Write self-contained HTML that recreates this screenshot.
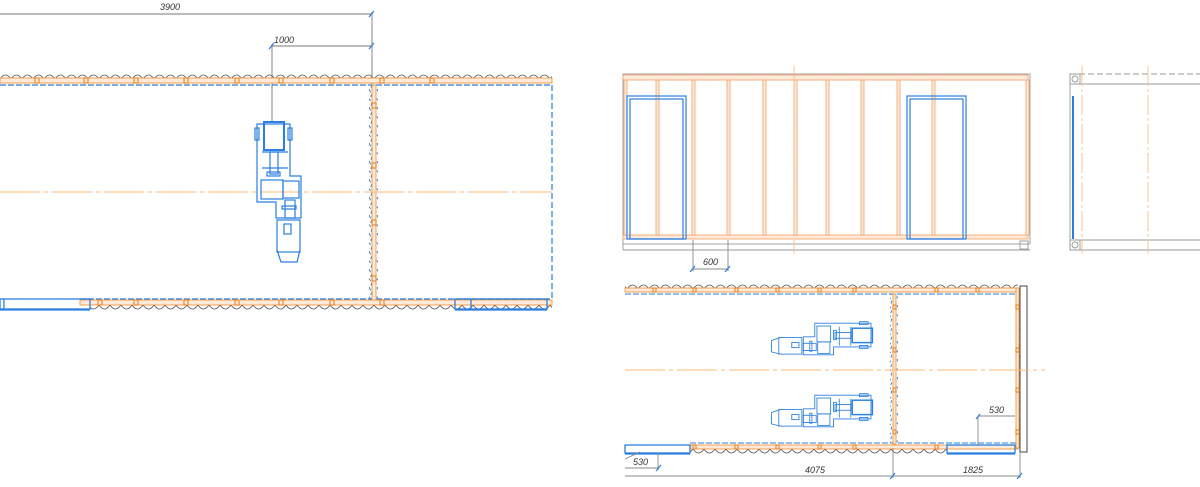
<!DOCTYPE html>
<html><head><meta charset="utf-8"><style>
html,body{margin:0;padding:0;background:#fff;width:1200px;height:487px;overflow:hidden}
svg{display:block}
text{font-family:"Liberation Sans",sans-serif;font-size:9px;font-style:italic;fill:#333}
</style></head><body>
<svg width="1200" height="487" viewBox="0 0 1200 487" xmlns="http://www.w3.org/2000/svg">
<defs>
<pattern id="scal" x="0" y="71" width="22" height="10" patternUnits="userSpaceOnUse">
<path d="M0,8 Q5.5,0 11,8 Q16.5,0 22,8" fill="none" stroke="#555" stroke-width="0.8"/>
</pattern>
<pattern id="scalb" x="0" y="303" width="22" height="10" patternUnits="userSpaceOnUse">
<path d="M0,2 Q5.5,10 11,2 Q16.5,10 22,2" fill="none" stroke="#555" stroke-width="0.8"/>
</pattern>
<pattern id="scalb2" x="0" y="447" width="22" height="10" patternUnits="userSpaceOnUse">
<path d="M0,2 Q5.5,10 11,2 Q16.5,10 22,2" fill="none" stroke="#555" stroke-width="0.8"/>
</pattern>
<pattern id="scalv" x="0" y="0" width="8" height="18" patternUnits="userSpaceOnUse">
<path d="M1,0 Q6,4.5 1,9 Q6,13.5 1,18" fill="none" stroke="#2a7fe0" stroke-width="0.9" stroke-dasharray="3 2"/>
</pattern>
<g id="motor" fill="none" stroke="#2a7fe0" stroke-width="1.2">
<path d="M257,124 H290 V176 H301 V218 H276 V202 H257 Z"/>
<rect x="264" y="122" width="20" height="28" stroke-width="2"/>
<rect x="255" y="128" width="4" height="12"/><rect x="288" y="128" width="4" height="12"/>
<line x1="262" y1="152" x2="288" y2="152"/><line x1="262" y1="168" x2="288" y2="168"/>
<rect x="270" y="152" width="8" height="22"/>
<rect x="267" y="172" width="13" height="4"/>
<rect x="261" y="180" width="22" height="19"/>
<rect x="283" y="181" width="16" height="17"/>
<rect x="285" y="200" width="10" height="18"/>
<rect x="282" y="206" width="14" height="3"/>
<rect x="277" y="220" width="23" height="32"/>
<rect x="284" y="224" width="7" height="10"/>
<path d="M277,250 L281,262 H297 L300,250"/>
</g>
</defs>

<g stroke="#777" stroke-width="0.9">
<line x1="0" y1="14" x2="372" y2="14"/>
<line x1="272" y1="46" x2="372" y2="46"/>
<line x1="372" y1="12" x2="372" y2="84"/>
<line x1="272" y1="44" x2="272" y2="122"/>
</g>
<g stroke="#2a7fe0" stroke-width="1.2"><line x1="369" y1="17" x2="374" y2="11"/><line x1="369" y1="49" x2="374" y2="43"/><line x1="269" y1="49" x2="274" y2="43"/></g>
<text x="160" y="10">3900</text>
<text x="274" y="43">1000</text>

<rect x="0" y="71" width="552" height="10" fill="url(#scal)"/>
<rect x="0" y="78" width="552" height="5" fill="#feeadb" stroke="#f08a2a" stroke-width="0.8"/>
<line x1="0" y1="85" x2="552" y2="85" stroke="#2a7fe0" stroke-width="1.2" stroke-dasharray="6 2"/>
<rect x="90" y="303" width="462" height="10" fill="url(#scalb)"/>
<rect x="80" y="300" width="472" height="5" fill="#feeadb" stroke="#f08a2a" stroke-width="0.8"/>
<line x1="80" y1="299" x2="552" y2="299" stroke="#2a7fe0" stroke-width="1.2" stroke-dasharray="6 2"/>
<g fill="none" stroke="#2a7fe0" stroke-width="1.3">
<rect x="0" y="299" width="90" height="10"/><line x1="4" y1="299" x2="4" y2="309"/><line x1="0" y1="310" x2="90" y2="310"/>
<rect x="455" y="299" width="92" height="10"/><line x1="471" y1="299" x2="471" y2="309"/><line x1="455" y1="310" x2="547" y2="310"/>
</g>
<g fill="none" stroke="#f08a2a" stroke-width="1.2">
<rect x="35" y="78" width="4" height="5"/><rect x="84" y="78" width="4" height="5"/><rect x="134" y="78" width="4" height="5"/><rect x="184" y="78" width="4" height="5"/><rect x="235" y="78" width="4" height="5"/><rect x="279" y="78" width="4" height="5"/><rect x="330" y="78" width="4" height="5"/><rect x="380" y="78" width="4" height="5"/><rect x="430" y="78" width="4" height="5"/>
<rect x="98" y="300" width="4" height="5"/><rect x="134" y="300" width="4" height="5"/><rect x="184" y="300" width="4" height="5"/><rect x="235" y="300" width="4" height="5"/><rect x="279" y="300" width="4" height="5"/><rect x="330" y="300" width="4" height="5"/><rect x="380" y="300" width="4" height="5"/>
</g>
<rect x="369" y="85" width="9" height="215" fill="url(#scalv)"/>
<rect x="372" y="85" width="4" height="215" fill="#feeadb" stroke="#f08a2a" stroke-width="0.8"/>
<g fill="none" stroke="#f08a2a" stroke-width="1.2"><rect x="372" y="103" width="4" height="5"/><rect x="372" y="163" width="4" height="5"/><rect x="372" y="220" width="4" height="5"/><rect x="372" y="276" width="4" height="5"/></g>
<line x1="552" y1="85" x2="552" y2="299" stroke="#2a7fe0" stroke-width="1.2" stroke-dasharray="6 3"/>
<line x1="0" y1="192" x2="552" y2="192" stroke="#fbb87a" stroke-width="0.9" stroke-dasharray="40 4 4 4"/>
<use href="#motor"/>

<g fill="none" stroke="#999" stroke-width="0.9">
<rect x="623" y="74" width="407" height="170"/>
<line x1="623" y1="250" x2="1030" y2="250"/><line x1="623" y1="244" x2="623" y2="250"/>
<rect x="1020" y="241" width="8" height="8"/>
</g>
<g fill="#feeadb" stroke="#f5a064" stroke-width="0.8">
<rect x="623" y="75" width="405" height="5"/>
<rect x="623" y="235" width="405" height="4"/>
<rect x="624" y="80" width="3" height="155"/><rect x="1026" y="80" width="3" height="155"/>
<rect x="656" y="80" width="3" height="155"/><rect x="692" y="80" width="3" height="155"/><rect x="727" y="80" width="3" height="155"/><rect x="763" y="80" width="3" height="155"/><rect x="794" y="80" width="3" height="155"/><rect x="826" y="80" width="3" height="155"/><rect x="861" y="80" width="3" height="155"/><rect x="897" y="80" width="3" height="155"/><rect x="932" y="80" width="3" height="155"/>
</g>
<line x1="794" y1="66" x2="794" y2="254" stroke="#fbb87a" stroke-width="0.8" stroke-dasharray="20 3 3 3"/>
<g fill="none" stroke="#2a7fe0" stroke-width="1.2">
<rect x="627" y="96" width="59" height="143"/><rect x="630" y="99" width="53" height="140"/>
<rect x="907" y="96" width="59" height="143"/><rect x="910" y="99" width="53" height="140"/>
</g>
<g stroke="#888" stroke-width="0.9"><line x1="693" y1="240" x2="693" y2="271"/><line x1="728" y1="240" x2="728" y2="271"/><line x1="693" y1="269" x2="728" y2="269"/></g>
<g stroke="#2a7fe0" stroke-width="1.2"><line x1="690" y1="272" x2="695" y2="266"/><line x1="725" y1="272" x2="730" y2="266"/></g>
<text x="703" y="265">600</text>

<g fill="none" stroke="#999" stroke-width="0.9">
<line x1="1070" y1="74" x2="1070" y2="250"/>
<line x1="1070" y1="74" x2="1200" y2="74" stroke-dasharray="6 3"/>
<line x1="1074" y1="84" x2="1200" y2="84"/>
<line x1="1070" y1="240" x2="1200" y2="240"/>
<line x1="1070" y1="250" x2="1200" y2="250"/>
<rect x="1070" y="74" width="10" height="10"/><rect x="1070" y="240" width="10" height="10"/>
<circle cx="1075" cy="79" r="3"/><circle cx="1075" cy="245" r="3"/>
</g>
<line x1="1073" y1="96" x2="1073" y2="239" stroke="#2a7fe0" stroke-width="2"/>
<line x1="1082" y1="66" x2="1082" y2="254" stroke="#fbb87a" stroke-width="0.8" stroke-dasharray="20 3 3 3"/>
<line x1="1148" y1="66" x2="1148" y2="254" stroke="#fbb87a" stroke-width="0.8" stroke-dasharray="20 3 3 3"/>

<rect x="625" y="281" width="393" height="10" fill="url(#scal)"/>
<rect x="625" y="288" width="393" height="4" fill="#feeadb" stroke="#f08a2a" stroke-width="0.8"/>
<line x1="625" y1="294" x2="1018" y2="294" stroke="#2a7fe0" stroke-width="1.1" stroke-dasharray="6 2"/>
<rect x="690" y="447" width="257" height="10" fill="url(#scalb2)"/>
<rect x="690" y="445" width="328" height="4" fill="#feeadb" stroke="#f08a2a" stroke-width="0.8"/>
<line x1="690" y1="443" x2="1018" y2="443" stroke="#2a7fe0" stroke-width="1.1" stroke-dasharray="6 2"/>
<g fill="none" stroke="#2a7fe0" stroke-width="1.3">
<rect x="625" y="445" width="65" height="8"/><line x1="625" y1="454" x2="690" y2="454"/>
<rect x="947" y="445" width="68" height="8"/><line x1="947" y1="454" x2="1015" y2="454"/>
</g>
<rect x="890" y="294" width="8" height="150" fill="url(#scalv)"/>
<rect x="893" y="294" width="3" height="150" fill="#feeadb" stroke="#f08a2a" stroke-width="0.8"/>
<rect x="1014" y="294" width="8" height="150" fill="url(#scalv)"/>
<rect x="1016" y="288" width="3" height="160" fill="#feeadb" stroke="#f08a2a" stroke-width="0.8"/>
<rect x="1020" y="286" width="7" height="166" fill="none" stroke="#444" stroke-width="1"/>
<g fill="none" stroke="#f08a2a" stroke-width="1.2">
<rect x="893" y="305" width="3" height="4"/><rect x="893" y="348" width="3" height="4"/><rect x="893" y="388" width="3" height="4"/><rect x="893" y="430" width="3" height="4"/>
<rect x="1016" y="305" width="3" height="4"/><rect x="1016" y="348" width="3" height="4"/><rect x="1016" y="388" width="3" height="4"/><rect x="1016" y="430" width="3" height="4"/>
<rect x="653" y="288" width="3" height="4"/><rect x="693" y="288" width="3" height="4"/><rect x="735" y="288" width="3" height="4"/><rect x="776" y="288" width="3" height="4"/><rect x="818" y="288" width="3" height="4"/><rect x="853" y="288" width="3" height="4"/><rect x="935" y="288" width="3" height="4"/><rect x="976" y="288" width="3" height="4"/>
<rect x="693" y="445" width="3" height="4"/><rect x="735" y="445" width="3" height="4"/><rect x="776" y="445" width="3" height="4"/><rect x="818" y="445" width="3" height="4"/><rect x="853" y="445" width="3" height="4"/><rect x="935" y="445" width="3" height="4"/>
</g>
<line x1="625" y1="370" x2="1045" y2="370" stroke="#fbb87a" stroke-width="0.9" stroke-dasharray="40 4 4 4"/>
<use href="#motor" transform="translate(822,339) scale(0.72) rotate(90) translate(-279,-192)"/>
<use href="#motor" transform="translate(822,411) scale(0.72) rotate(90) translate(-279,-192)"/>
<g stroke="#888" stroke-width="0.9">
<line x1="625" y1="476" x2="1020" y2="476"/>
<line x1="893" y1="448" x2="893" y2="478"/><line x1="1020" y1="452" x2="1020" y2="478"/>
<line x1="625" y1="468" x2="659" y2="468"/><line x1="658" y1="453" x2="658" y2="470"/>
<line x1="640" y1="452" x2="625" y2="459"/>
<line x1="978" y1="416" x2="1015" y2="416"/><line x1="978" y1="416" x2="978" y2="446"/>
</g>
<g stroke="#2a7fe0" stroke-width="1.2"><line x1="890" y1="479" x2="895" y2="473"/><line x1="1017" y1="479" x2="1022" y2="473"/><line x1="656" y1="471" x2="661" y2="465"/><line x1="976" y1="419" x2="980" y2="414"/></g>
<text x="633" y="465">530</text>
<text x="805" y="473">4075</text>
<text x="963" y="473">1825</text>
<text x="989" y="413">530</text>
</svg>
</body></html>
